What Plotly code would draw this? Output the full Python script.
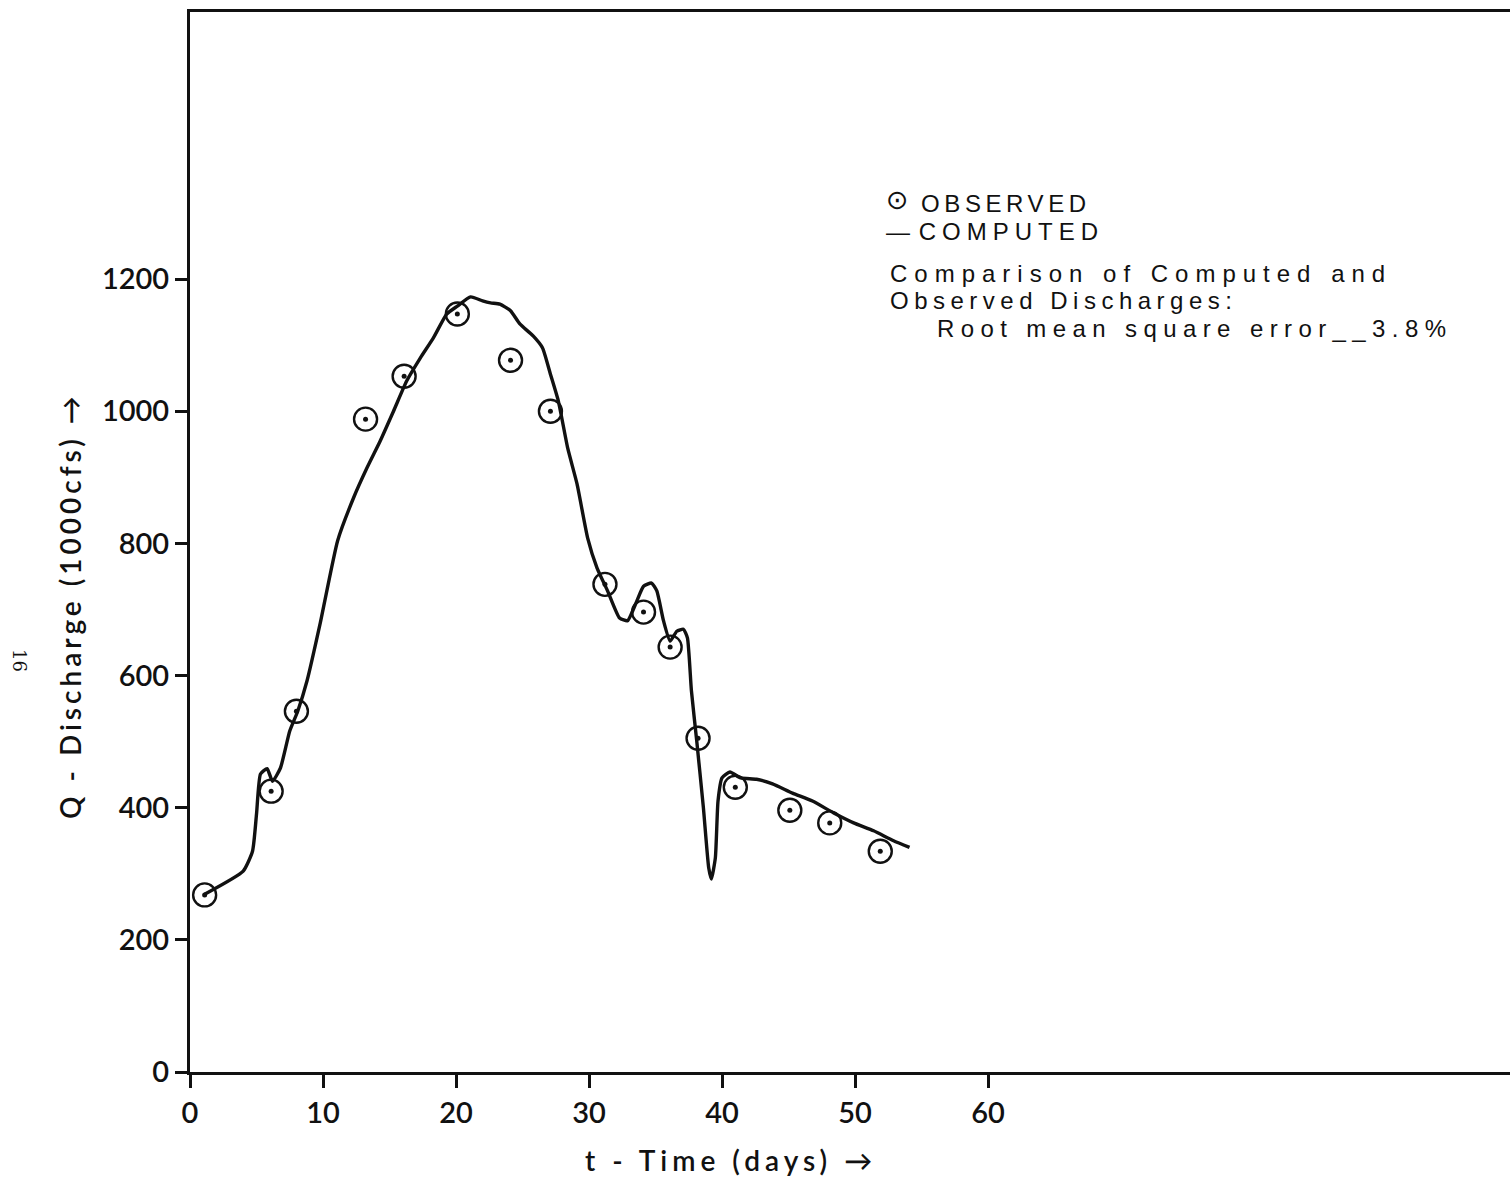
import plotly.graph_objects as go

# Observed discharges (days, 1000 cfs)
obs_t = [1.1, 6.1, 8.0, 13.2, 16.1, 20.1, 24.1, 27.1, 31.2, 34.1, 36.1, 38.2, 41.0, 45.1, 48.1, 51.9]
obs_q = [268, 425, 546, 988, 1053, 1147, 1077, 1000, 738, 696, 643, 505, 431, 396, 377, 334]

# Computed hydrograph (days, 1000 cfs)
comp_t = [1.1, 4.0, 4.7, 5.0, 5.3, 5.8, 6.2, 6.8, 7.5, 8.1, 8.8, 9.8, 11.1, 12.3, 13.3, 14.3,
          15.3, 16.3, 17.3, 18.3, 19.3, 20.1, 21.1, 22.0, 22.6, 23.3, 24.1, 24.8, 25.8, 26.5,
          27.1, 27.7, 28.4, 29.1, 29.9, 30.6, 31.4, 32.3, 32.9, 33.6, 34.1, 34.7, 35.1, 35.6,
          36.1, 36.6, 37.1, 37.4, 37.7, 38.1, 38.6, 39.0, 39.2, 39.5, 39.7, 40.0, 40.6, 41.4,
          42.6, 43.8, 45.3, 46.8, 48.4, 49.9, 51.4, 52.9, 54.1]
comp_q = [269, 304, 334, 390, 451, 459, 440, 460, 516, 546, 592, 680, 804, 869, 914, 955,
          1000, 1046, 1080, 1111, 1147, 1159, 1173, 1167, 1164, 1162, 1152, 1132, 1114, 1096,
          1056, 1015, 944, 890, 808, 763, 728, 687, 683, 713, 735, 740, 728, 683,
          652, 667, 670, 657, 577, 501, 400, 309, 292, 324, 410, 445, 454, 445,
          443, 436, 422, 410, 392, 377, 365, 350, 340]

x_ticks = [0, 10, 20, 30, 40, 50, 60]
y_ticks = [0, 200, 400, 600, 800, 1000, 1200]

FONT = "Lato"
TXT = "Liberation Sans"
BLACK = "#111111"

fig = go.Figure()
fig.add_trace(go.Scatter(
    x=comp_t, y=comp_q, mode="lines", name="COMPUTED",
    line=dict(color=BLACK, width=3.4, shape="spline", smoothing=0.5),
    showlegend=False,
))
fig.add_trace(go.Scatter(
    x=obs_t, y=obs_q, mode="markers", name="OBSERVED",
    marker=dict(symbol="circle-open", size=23, color=BLACK,
                line=dict(color=BLACK, width=2.4)),
    showlegend=False,
))
fig.add_trace(go.Scatter(
    x=obs_t, y=obs_q, mode="markers", name="OBSERVED",
    marker=dict(symbol="circle", size=5, color=BLACK),
    showlegend=False, hoverinfo="skip",
))

XR = [0, 1320 / 13.3]
YR = [0, 1060 / 0.6608]

tickfont = dict(family=FONT, size=29, color=BLACK, weight=600)

fig.update_layout(
    width=1510, height=1177,
    margin=dict(l=190, r=0, t=12, b=105),
    paper_bgcolor="white", plot_bgcolor="white",
    xaxis=dict(range=XR, tickvals=x_ticks, ticktext=[str(v) for v in x_ticks],
               ticks="outside", ticklen=13, tickwidth=2.5, tickcolor=BLACK,
               showline=True, linewidth=3, linecolor=BLACK, mirror=True,
               showgrid=False, zeroline=False, tickfont=tickfont),
    yaxis=dict(range=YR, tickvals=y_ticks, ticktext=[str(v) for v in y_ticks],
               ticks="outside", ticklen=12, tickwidth=2.5, tickcolor=BLACK,
               showline=True, linewidth=3, linecolor=BLACK, mirror=False,
               showgrid=False, zeroline=False, tickfont=tickfont),
    xaxis2=dict(range=XR, overlaying="x", anchor="y", side="bottom",
                tickvals=x_ticks, ticks="inside", ticklen=15, tickwidth=2.5,
                tickcolor=BLACK, showticklabels=False, showline=False,
                showgrid=False, zeroline=False),
    yaxis2=dict(range=YR, overlaying="y", anchor="x", side="left",
                tickvals=y_ticks, ticks="inside", ticklen=17, tickwidth=2.5,
                tickcolor=BLACK, showticklabels=False, showline=False,
                showgrid=False, zeroline=False),
    showlegend=False,
)

def px(x):
    return (x - 190) / 1320

def py(y):
    return (1072 - y) / 1060

def sp(text, ls):
    return f'<span style="letter-spacing:{ls}px">{text}</span>'

ann_font = dict(family=TXT, size=24, color=BLACK)
notes = [
    (sp("OBSERVED", 4.6), 919, 203),
    (sp("\u2014 ", 1) + sp("COMPUTED", 6), 884, 231),
    (sp("Comparison of Computed and", 7.0), 888, 273),
    (sp("Observed Discharges:", 5.5), 888, 300),
    (sp("Root mean square error__3.8%", 6.4), 935, 328),
]
for text, x, y in notes:
    fig.add_annotation(text=text, xref="paper", yref="paper",
                       x=px(x), y=py(y), xanchor="left", yanchor="middle",
                       showarrow=False, font=ann_font)
# legend symbol for the observed points
fig.add_annotation(text="\u2299", xref="paper", yref="paper",
                   x=px(897), y=py(200), xanchor="center", yanchor="middle",
                   showarrow=False, font=dict(family="DejaVu Sans", size=27, color=BLACK))

fig.add_annotation(text=sp("Q - Discharge (1000cfs) \u2192", 4), xref="paper", yref="paper",
                   x=px(70), y=py(606), xanchor="center", yanchor="middle",
                   textangle=-90, showarrow=False,
                   font=dict(family=FONT, size=28, color=BLACK, weight=600))
fig.add_annotation(text=sp("t - Time (days) \u2192", 5), xref="paper", yref="paper",
                   x=px(731), y=py(1160), xanchor="center", yanchor="middle",
                   showarrow=False,
                   font=dict(family=FONT, size=28, color=BLACK, weight=600))
fig.add_annotation(text="16", xref="paper", yref="paper",
                   x=px(20), y=py(660), xanchor="center", yanchor="middle",
                   textangle=90, showarrow=False,
                   font=dict(family="DejaVu Serif", size=18, color=BLACK))

fig.write_html("out.html", config={"displayModeBar": False},
               post_script="document.body.style.margin='0';document.body.style.overflow='hidden';")
